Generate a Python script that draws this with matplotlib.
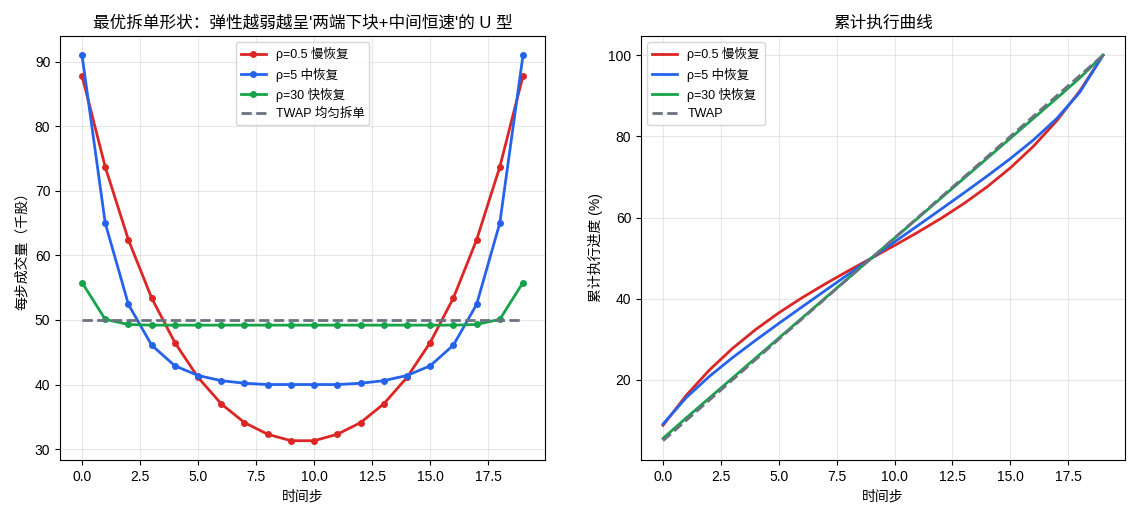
import matplotlib
matplotlib.use('Agg')
import matplotlib.pyplot as plt
import numpy as np

plt.rcParams['font.family'] = ['Liberation Sans', 'Noto Sans CJK SC', 'DejaVu Sans']
plt.rcParams['axes.unicode_minus'] = False

steps = np.arange(20)
slow = [87.8, 73.7, 62.4, 53.4, 46.5, 41.1, 37.0, 34.1, 32.3, 31.3,
        31.3, 32.3, 34.1, 37.0, 41.1, 46.5, 53.4, 62.4, 73.7, 87.8]
mid = [91.0, 65.0, 52.4, 46.1, 42.9, 41.4, 40.6, 40.2, 40.0, 40.0,
       40.0, 40.0, 40.2, 40.6, 41.4, 42.9, 46.1, 52.4, 65.0, 91.0]
fast = [55.8, 50.1, 49.3, 49.2, 49.2, 49.2, 49.2, 49.2, 49.2, 49.2,
        49.2, 49.2, 49.2, 49.2, 49.2, 49.2, 49.2, 49.3, 50.1, 55.8]
twap = [50.0] * 20

labels = ['ρ=0.5 慢恢复', 'ρ=5 中恢复', 'ρ=30 快恢复']
colors = ['#dc2626', '#2563eb', '#16a34a']
gray = '#6b7280'

fig = plt.figure(figsize=(11.36, 5.18), dpi=100)
ax1 = fig.add_axes([0.0528, 0.112, 0.427, 0.8185])
ax2 = fig.add_axes([0.5643, 0.112, 0.426, 0.8185])

for ys, lab, c in zip([slow, mid, fast], labels, colors):
    ax1.plot(steps, ys, 'o-', color=c, label=lab, lw=2, ms=4)
ax1.plot(steps, twap, '--', color=gray, lw=2, label='TWAP 均匀拆单')
ax1.set_title("最优拆单形状：弹性越弱越呈'两端下块+中间恒速'的 U 型", fontsize=12)
ax1.set_xlabel('时间步')
ax1.set_ylabel('每步成交量（千股）')
ax1.grid(True, alpha=0.3)
ax1.legend(loc='upper center', fontsize=9)

for ys, lab, c in zip([slow, mid, fast], labels, colors):
    cum = np.cumsum(ys) / np.sum(ys) * 100
    ax2.plot(steps, cum, color=c, lw=2, label=lab)
ax2.plot(steps, np.cumsum(twap) / np.sum(twap) * 100, '--', color=gray, lw=2, label='TWAP')
ax2.set_title('累计执行曲线', fontsize=12)
ax2.set_xlabel('时间步')
ax2.set_ylabel('累计执行进度 (%)')
ax2.grid(True, alpha=0.3)
ax2.legend(loc='upper left', fontsize=9)

plt.savefig('out.png', dpi=100)
